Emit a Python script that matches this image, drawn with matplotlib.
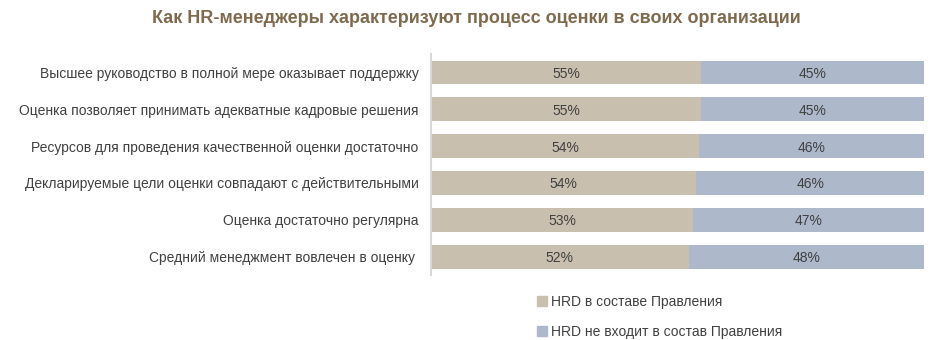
import matplotlib
matplotlib.use("Agg")
import matplotlib.pyplot as plt
from matplotlib.patches import Patch

categories = [
    "Высшее руководство в полной мере оказывает поддержку",
    "Оценка позволяет принимать адекватные кадровые решения",
    "Ресурсов для проведения качественной оценки достаточно",
    "Декларируемые цели оценки совпадают с действительными",
    "Оценка достаточно регулярна",
    "Средний менеджмент вовлечен в оценку ",
]
in_board = [54.8, 54.8, 54.4, 53.8, 53.1, 52.3]
not_in_board = [100 - v for v in in_board]
series_names = ["HRD в составе Правления", "HRD не входит в состав Правления"]

c_board = "#C9BFAE"
c_not = "#ADB8CB"
txt = "#404040"
regular = ["Liberation Sans", "DejaVu Sans"]

fig = plt.figure(figsize=(9.4, 3.4), dpi=100)
ax = fig.add_axes([0.4585, 0.191, 0.5245, 0.65])

y = list(range(len(categories)))
ax.barh(y, in_board, height=0.65, color=c_board)
ax.barh(y, not_in_board, left=in_board, height=0.65, color=c_not)

for i in y:
    ax.text(in_board[i] / 2, i, f"{in_board[i]:.0f}%", ha="center", va="center_baseline",
            fontsize=10, color=txt, family=regular)
    ax.text(in_board[i] + not_in_board[i] / 2, i, f"{not_in_board[i]:.0f}%",
            ha="center", va="center_baseline", fontsize=10, color=txt, family=regular)

ax.set_xlim(0, 100)
ax.set_ylim(len(categories) - 0.5, -0.5)
ax.set_yticks(y)
ax.set_yticklabels(categories, fontsize=10, color=txt, family=regular)
ax.tick_params(axis="y", length=0, pad=9)
ax.set_xticks([])
for s in ["top", "right", "bottom"]:
    ax.spines[s].set_visible(False)
ax.spines["left"].set_color("#D9D9D9")
ax.spines["left"].set_linewidth(1.5)

fig.text(0.5065, 0.945, "Как HR-менеджеры характеризуют процесс оценки в своих организации",
         ha="center", va="center", fontsize=13, fontweight="bold", color="#7F6A4E",
         family=regular)

handles = [Patch(color=c_board), Patch(color=c_not)]
leg = fig.legend(handles, series_names, loc="upper left", bbox_to_anchor=(0.558, 0.17),
                 frameon=False, handlelength=0.7, handleheight=0.7, handletextpad=0.3,
                 labelspacing=1.15, prop={"family": regular, "size": 10})
for t in leg.get_texts():
    t.set_color(txt)

fig.savefig("out.png", dpi=100)
